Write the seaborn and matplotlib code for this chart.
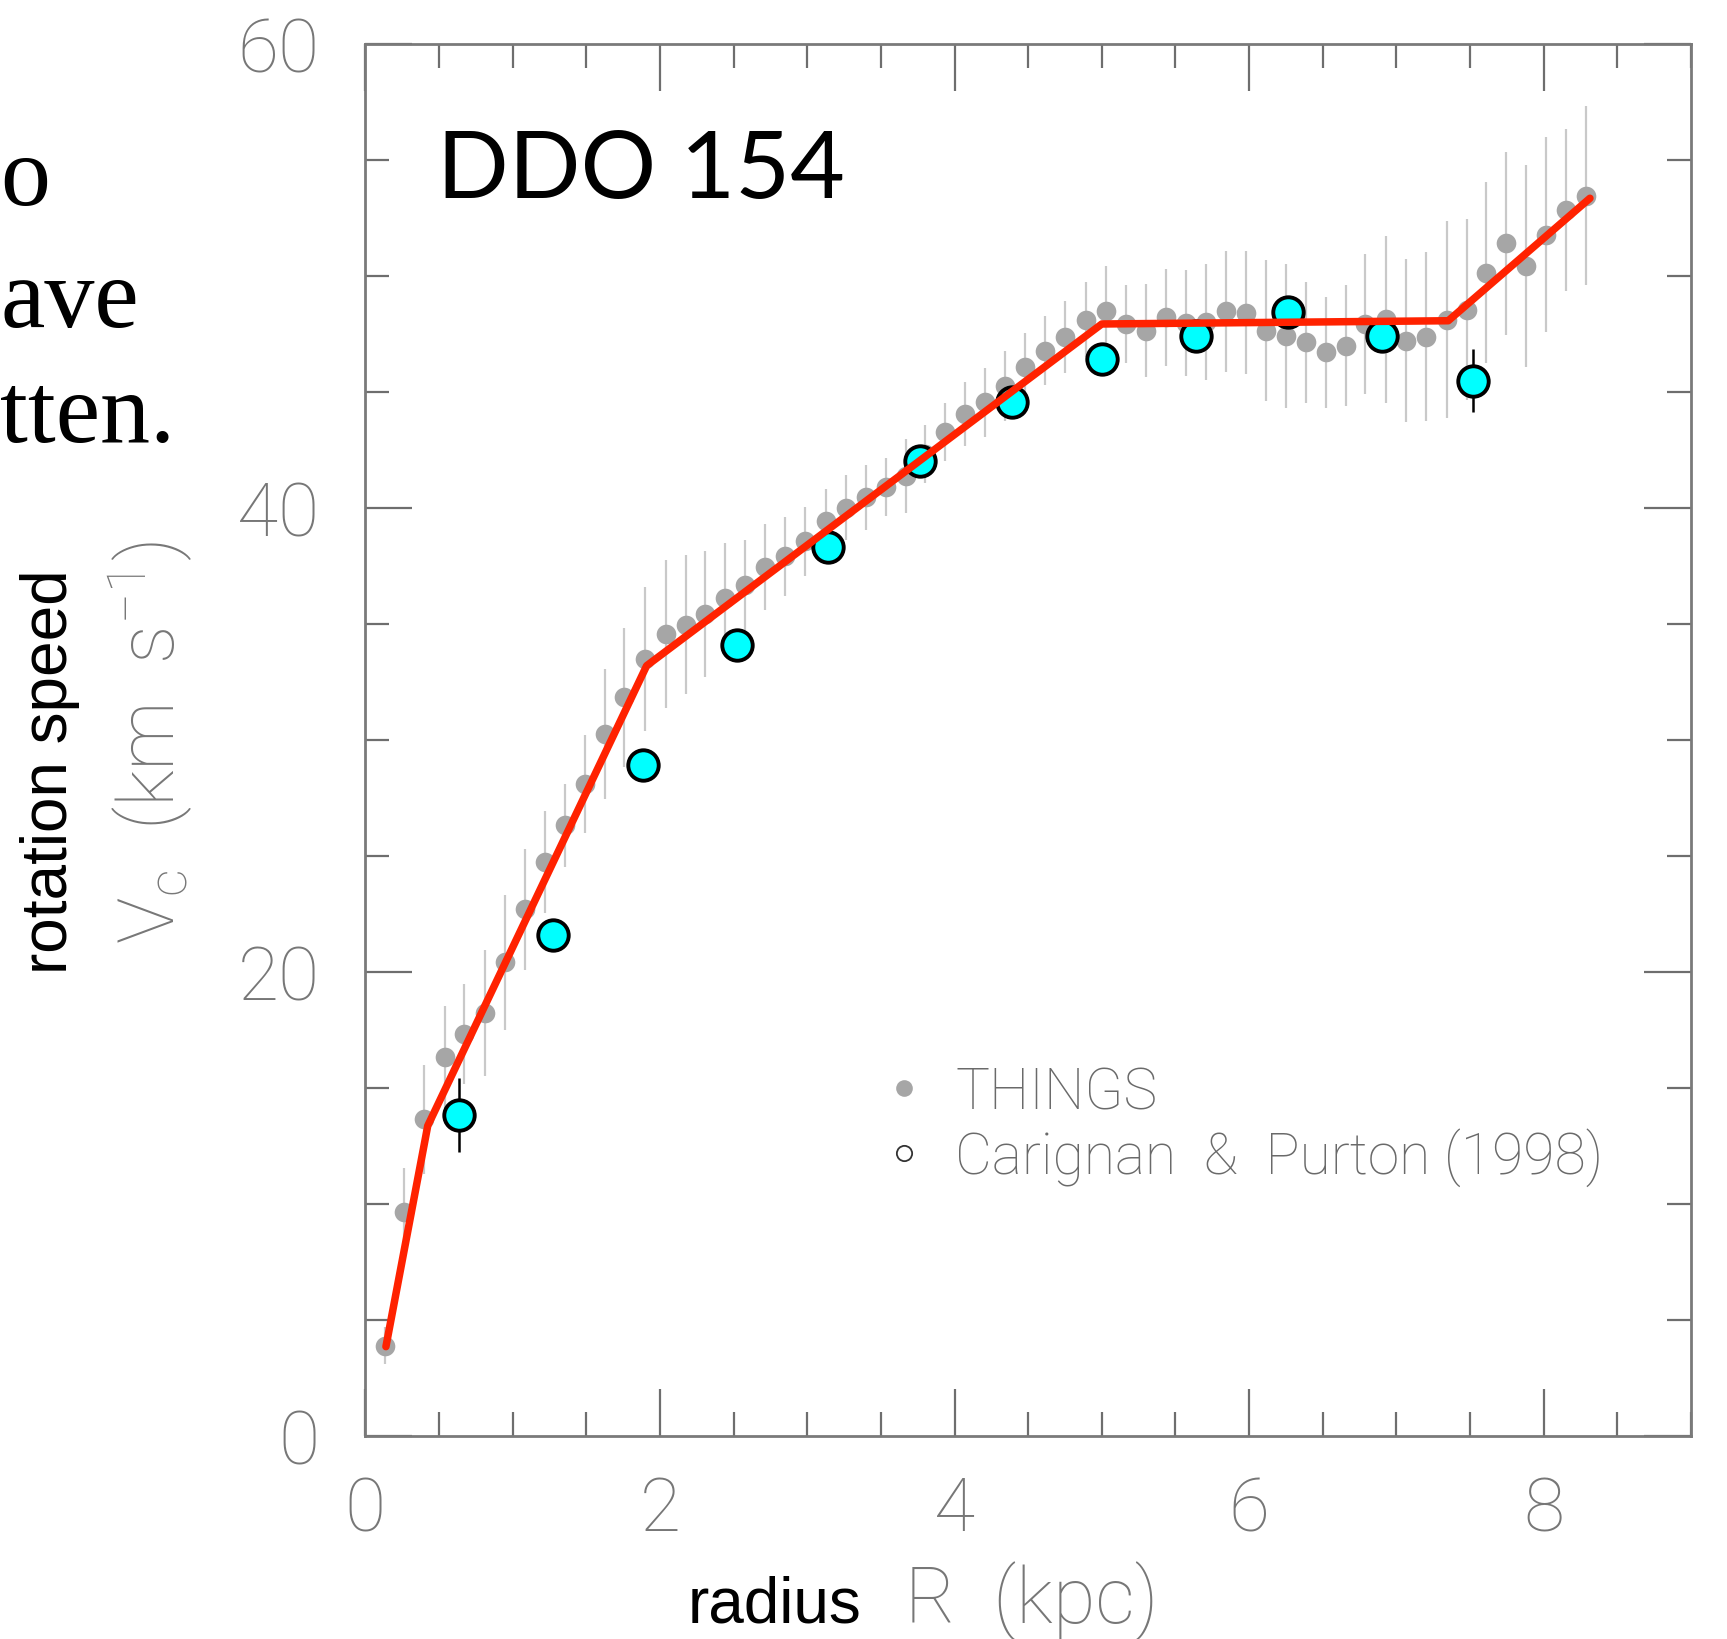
import matplotlib
matplotlib.use("Agg")
import matplotlib.pyplot as plt
from matplotlib.font_manager import FontProperties
from matplotlib.lines import Line2D
from matplotlib.ticker import MultipleLocator
import pandas as pd
import seaborn as sns

# THINGS rotation curve (grey dots with error bars)
things_r = [0.136, 0.265, 0.40, 0.543, 0.672, 0.815, 0.95, 1.085, 1.22, 1.355,
            1.49, 1.627, 1.756, 1.899, 2.041, 2.175, 2.306, 2.442, 2.578, 2.714,
            2.85, 2.985, 3.126, 3.261, 3.399, 3.535, 3.671, 3.80, 3.935, 4.071,
            4.207, 4.343, 4.479, 4.614, 4.75, 4.891, 5.026, 5.162, 5.298, 5.434,
            5.57, 5.705, 5.841, 5.977, 6.113, 6.25, 6.386, 6.522, 6.658, 6.787,
            6.927, 7.065, 7.201, 7.341, 7.477, 7.608, 7.744, 7.88, 8.016, 8.152,
            8.287]
things_v = [3.87, 9.65, 13.64, 16.33, 17.31, 18.21, 20.40, 22.68, 24.73, 26.3,
            28.08, 30.24, 31.82, 33.47, 34.55, 34.95, 35.41, 36.09, 36.66, 37.42,
            37.9, 38.54, 39.4, 40.0, 40.44, 40.87, 41.37, 42.3, 43.24, 44.03,
            44.53, 45.25, 46.04, 46.76, 47.34, 48.1, 48.48, 47.91, 47.62, 48.2,
            47.95, 48.0, 48.46, 48.4, 47.62, 47.41, 47.12, 46.69, 46.97, 47.91,
            48.12, 47.19, 47.36, 48.1, 48.53, 50.11, 51.39, 50.42, 51.75, 52.82,
            53.44]
things_err = [0.8, 1.9, 2.35, 2.2, 2.15, 2.7, 2.9, 2.6, 2.2, 1.8,
              2.1, 2.8, 3.0, 3.1, 3.2, 3.0, 2.7, 2.4, 1.95, 1.85,
              1.7, 1.5, 1.4, 1.4, 1.4, 1.25, 1.6, 1.25, 1.25, 1.4,
              1.5, 1.5, 1.5, 1.5, 1.55, 1.6, 1.95, 1.7, 2.0, 2.1,
              2.3, 2.5, 2.6, 2.65, 3.05, 3.1, 2.6, 2.4, 2.6, 3.0,
              3.6, 3.5, 3.65, 4.25, 3.9, 3.9, 3.95, 4.35, 4.2, 3.5,
              3.85]

# Carignan & Purton (1998) points (cyan)
cp_r = [0.638, 1.272, 1.888, 2.521, 3.139, 3.766, 4.388, 5.003, 5.637, 6.266, 6.90, 7.522]
cp_v = [13.83, 21.57, 28.91, 34.09, 38.31, 42.02, 44.53, 46.4, 47.41, 48.44, 47.38, 45.47]
cp_err = [1.6, 0.5, 0.5, 0.5, 0.5, 0.5, 0.5, 0.5, 0.5, 0.5, 0.5, 1.35]

# hand-drawn red curve
model_r = [0.14, 0.424, 1.91, 5.0, 7.352, 8.314]
model_v = [3.83, 13.35, 33.18, 47.91, 48.05, 53.33]

legend_labels = ['THINGS', 'Carignan  &  Purton (1998)']

df_things = pd.DataFrame({'R': things_r, 'V': things_v, 'err': things_err})
df_cp = pd.DataFrame({'R': cp_r, 'V': cp_v, 'err': cp_err})
df_model = pd.DataFrame({'R': model_r, 'V': model_v})

sns.set_style("ticks")
plt.rcParams['font.family'] = ['DejaVu Sans']
plt.rcParams['mathtext.fontset'] = 'custom'
plt.rcParams['mathtext.rm'] = 'Roboto:light'
plt.rcParams['mathtext.it'] = 'Roboto:light'

W, H = 1727, 1640
fig = plt.figure(figsize=(W / 100, H / 100), dpi=100)
ax = fig.add_axes([365.3 / W, 1 - 1436.5 / H, 1325.7 / W, 1392 / H])

grey = '#777777'
thin = FontProperties(family=['Roboto', 'DejaVu Sans'], weight='light', size=54)
thin_lab = FontProperties(family=['Roboto', 'DejaVu Sans'], weight='light', size=56)

# THINGS
ax.errorbar(df_things['R'], df_things['V'], yerr=df_things['err'], fmt='none',
            ecolor='#c9c9c9', elinewidth=1.6, capsize=0, zorder=1)
sns.scatterplot(data=df_things, x='R', y='V', color='#a6a6a6', s=200,
                linewidth=0, ax=ax, zorder=2, legend=False)

# Carignan & Purton
ax.errorbar(df_cp['R'], df_cp['V'], yerr=df_cp['err'], fmt='none',
            ecolor='black', elinewidth=1.8, capsize=0, zorder=3)
sns.scatterplot(data=df_cp, x='R', y='V', color='#00ffff', edgecolor='black',
                s=480, linewidth=2.8, ax=ax, zorder=4, legend=False)

# red line
sns.lineplot(data=df_model, x='R', y='V', sort=False, color='#ff2200',
             linewidth=5.4, ax=ax, zorder=5, legend=False)

ax.set_xlim(0, 9)
ax.set_ylim(0, 60)
ax.xaxis.set_major_locator(MultipleLocator(2))
ax.xaxis.set_minor_locator(MultipleLocator(0.5))
ax.yaxis.set_major_locator(MultipleLocator(20))
ax.yaxis.set_minor_locator(MultipleLocator(5))
ax.tick_params(which='both', direction='in', top=True, right=True,
               color='#6e6e6e', width=1.6, labelcolor=grey)
ax.tick_params(which='major', length=34)
ax.tick_params(which='minor', length=17)
ax.tick_params(axis='x', pad=28)
ax.tick_params(axis='y', pad=33)
for lbl in ax.get_xticklabels() + ax.get_yticklabels():
    lbl.set_fontproperties(thin)
for s in ax.spines.values():
    s.set_color('#7a7a7a')
    s.set_linewidth(2.0)
ax.set_xlabel('')
ax.set_ylabel('')

# legend
handles = [Line2D([], [], ls='none', marker='o', color='#a6a6a6', mec='none', markersize=12),
           Line2D([], [], ls='none', marker='o', mfc='none', mec='#333333', mew=1.3, markersize=11)]
ax.legend(handles, legend_labels, loc='upper left',
          bbox_to_anchor=(878 / W, 1 - 1066 / H), bbox_transform=fig.transFigure,
          frameon=False, borderpad=0, borderaxespad=0, handlelength=0.9,
          handletextpad=0.46, labelspacing=0.13,
          prop=FontProperties(family=['Roboto', 'DejaVu Sans'], weight='light', size=41),
          labelcolor='#6a6a6a')

# title
fig.text(437 / W, 1 - 198 / H, 'DDO 154', ha='left', va='baseline',
         fontsize=68, family=['Lato', 'DejaVu Sans'], color='black')

# axis labels
fig.text(50 / W, 1 - 772 / H, 'rotation speed', rotation=90, ha='center', va='center',
         fontsize=46, family=['Liberation Sans', 'DejaVu Sans'], color='black')
fig.text(150 / W, 1 - 743 / H, r'$\mathrm{V_c}$  (km  s$^{-1}$)', rotation=90,
         ha='center', va='center', fontproperties=thin_lab, color=grey)
fig.text(688 / W, 1 - 1623 / H, 'radius', ha='left', va='baseline',
         fontsize=46, family=['Liberation Sans', 'DejaVu Sans'], color='black')
fig.text(905 / W, 1 - 1623 / H, 'R  (kpc)', ha='left', va='baseline',
         fontproperties=thin_lab, color=grey)

# slide text fragments at the left edge
serif = ['Liberation Serif', 'DejaVu Serif']
fig.text(0, 1 - 205 / H, 'o', ha='left', va='baseline', fontsize=72, family=serif, color='black')
fig.text(0, 1 - 327 / H, 'ave', ha='left', va='baseline', fontsize=72, family=serif, color='black')
fig.text(0, 1 - 442 / H, 'tten.', ha='left', va='baseline', fontsize=72, family=serif, color='black')

fig.savefig('out.png', dpi=100)
